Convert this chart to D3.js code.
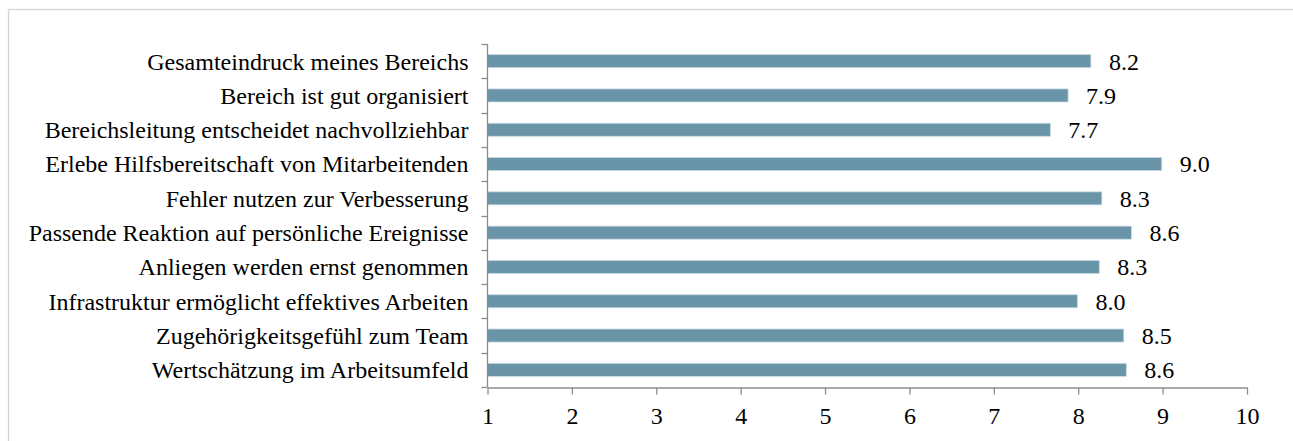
<!DOCTYPE html>
<html>
<head>
<meta charset="utf-8">
<script src="https://cdn.jsdelivr.net/npm/d3@7"></script>
<style>
  body { margin: 0; background: #fff; }
  text { font-family: "Liberation Serif", "Times New Roman", serif; fill: #000; }
</style>
</head>
<body>
<script>
// data
const categories = [
  'Gesamteindruck meines Bereichs',
  'Bereich ist gut organisiert',
  'Bereichsleitung entscheidet nachvollziehbar',
  'Erlebe Hilfsbereitschaft von Mitarbeitenden',
  'Fehler nutzen zur Verbesserung',
  'Passende Reaktion auf persönliche Ereignisse',
  'Anliegen werden ernst genommen',
  'Infrastruktur ermöglicht effektives Arbeiten',
  'Zugehörigkeitsgefühl zum Team',
  'Wertschätzung im Arbeitsumfeld'
]
const values = [8.15, 7.88, 7.67, 8.99, 8.28, 8.63, 8.25, 7.99, 8.54, 8.57]
const xTicks = [1, 2, 3, 4, 5, 6, 7, 8, 9, 10]

const W = 1293, H = 441
const M = { top: 44, right: 46, bottom: 54, left: 487.5 }
const FONT = '"Liberation Serif", "Times New Roman", serif'
const AXIS_COLOR = '#8c8c8c'

let svg = d3.select('body').append('svg')
  .attr('width', W)
  .attr('height', H)

// outer frame (runs off the right and bottom edges)
svg.append('rect')
  .attr('x', 8.5).attr('y', 9.5)
  .attr('width', 1300).attr('height', 450)
  .attr('fill', 'none')
  .attr('stroke', '#d4d4d4')
  .attr('stroke-width', 1.3)

let x = d3.scaleLinear()
  .domain([1, 10])
  .range([M.left, W - M.right])

let y = d3.scaleBand()
  .domain(categories)
  .range([M.top, H - M.bottom])
  .paddingInner(0.62)
  .paddingOuter(0.31)

let g = svg.append('g')

// bars
g.selectAll('.bar')
  .data(values)
  .enter().append('rect')
    .attr('class', 'bar')
    .attr('x', x(1))
    .attr('y', (d, i) => y(categories[i]))
    .attr('width', (d) => x(d) - x(1))
    .attr('height', y.bandwidth())
    .attr('fill', '#6a95a8')
    .attr('stroke', '#c9dbe3')
    .attr('stroke-width', 0.8)

// value labels
g.selectAll('.val')
  .data(values)
  .enter().append('text')
    .attr('class', 'val')
    .attr('x', (d) => x(d) + 18)
    .attr('y', (d, i) => y(categories[i]) + y.bandwidth() / 2)
    .attr('dy', '.35em')
    .style('font-size', '24px')
    .text((d) => d3.format('.1f')(d))

// y axis: line + ticks at band edges
let yAxis = svg.append('g')
let bandEdge = (i) => y.range()[0] + (y.range()[1] - y.range()[0]) * i / categories.length
yAxis.append('line')
  .attr('x1', x(1)).attr('x2', x(1))
  .attr('y1', M.top).attr('y2', H - M.bottom)
  .attr('stroke', AXIS_COLOR).attr('stroke-width', 1.3)
yAxis.selectAll('.ytick')
  .data(d3.range(categories.length + 1))
  .enter().append('line')
    .attr('x1', x(1) - 6).attr('x2', x(1))
    .attr('y1', (i) => Math.round(bandEdge(i)) + 0.5)
    .attr('y2', (i) => Math.round(bandEdge(i)) + 0.5)
    .attr('stroke', AXIS_COLOR).attr('stroke-width', 1.3)

// category labels
svg.selectAll('.cat')
  .data(categories)
  .enter().append('text')
    .attr('class', 'cat')
    .attr('x', x(1) - 19)
    .attr('y', (d) => y(d) + y.bandwidth() / 2)
    .attr('dy', '.35em')
    .attr('text-anchor', 'end')
    .style('font-size', '24px')
    .text((d) => d)

// x axis
let xAxis = svg.append('g')
  .attr('transform', 'translate(0,' + (H - M.bottom + 0.5) + ')')
  .call(d3.axisBottom(x).tickValues(xTicks).tickSize(7).tickSizeOuter(0).tickPadding(12))
xAxis.select('.domain').attr('stroke', AXIS_COLOR).attr('stroke-width', 1.3)
xAxis.selectAll('.tick line').attr('stroke', AXIS_COLOR).attr('stroke-width', 1.3)
xAxis.selectAll('.tick text')
  .style('font-family', FONT)
  .style('font-size', '24px')
  .attr('fill', '#000')
</script>
</body>
</html>
